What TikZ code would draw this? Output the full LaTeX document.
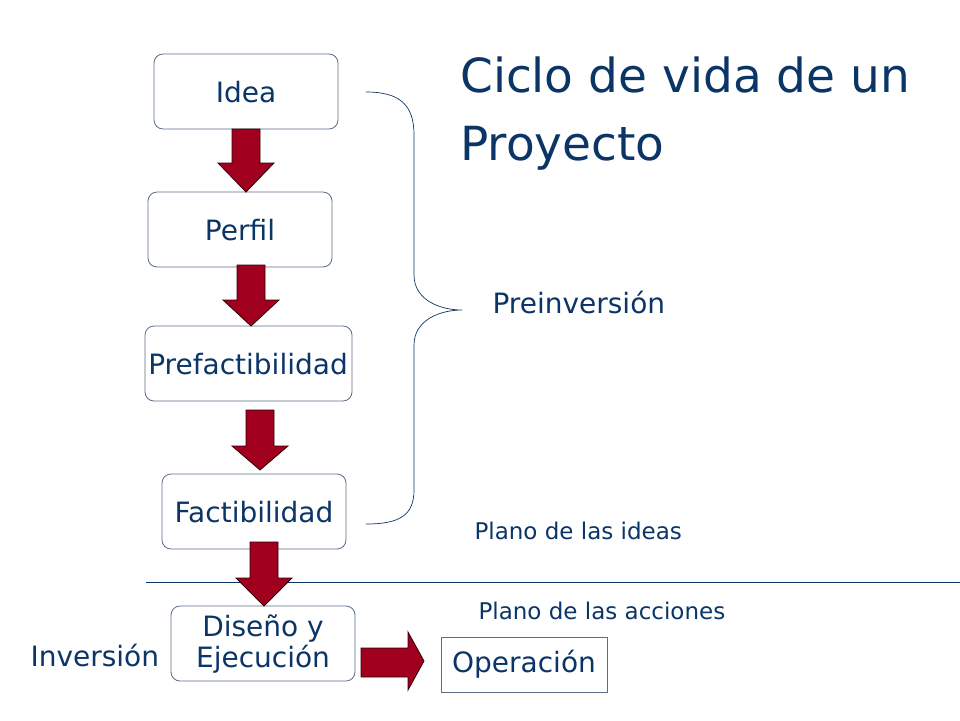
\documentclass[tikz,border=0pt]{standalone}
\usepackage{fontspec}
\setmainfont{DejaVu Sans}
\definecolor{txt}{HTML}{0B3566}
\definecolor{boxb}{HTML}{5A6E86}
\definecolor{arr}{HTML}{A0001E}
\begin{document}
\begin{tikzpicture}[x=1pt,y=-1pt,
  box/.style={draw=boxb,rounded corners=9pt,line width=0.8pt,fill=white},
  lbl/.style={text=txt,font=\fontsize{28}{31}\selectfont},
  small/.style={text=txt,font=\fontsize{23}{26}\selectfont,anchor=west},
  barrow/.style={fill=arr,draw=black!70!arr,line width=0.8pt}]
\useasboundingbox (0,0) rectangle (960,720);
\newcommand{\darrow}[6]{%
  \draw[barrow] (#1,#3) -- (#2,#3) -- (#2,#4) -- ++(#6-#2,0) -- ({(#1+#2)/2},#4+#5) -- ++({(#1-#2)/2-(#6-#2)},-#5) -- (#1,#4) -- cycle;}
\coordinate (l1) at (146,582); \coordinate (l2) at (960,582);
\draw[txt,line width=0.7pt] (l1) -- (l2);
\draw[box] (154,54) rectangle (338,129);
\node[lbl] (idea) at (246,92) {Idea};
\draw[box] (148,192) rectangle (332,267);
\node[lbl] (perfil) at (240,230) {Perfil};
\draw[box] (145,326) rectangle (352,401);
\node[lbl] (pref) at (248,364) {Prefactibilidad};
\draw[box] (162,474) rectangle (346,549);
\node[lbl] (fact) at (254,512) {Factibilidad};
\draw[box] (171,606) rectangle (355,681);
\node[lbl,align=center] (dis) at (263,644) {Diseño y\\ Ejecución};
\draw[draw=boxb,line width=0.8pt] (441,637) rectangle (607,692);
\node[lbl] (op) at (524,664) {Operación};
\darrow{232}{260}{129}{163}{29}{274}
\darrow{237}{265}{265}{300}{26}{279}
\darrow{246}{274}{410}{446}{24}{288}
\darrow{250}{278}{542}{578}{28}{292}
\draw[barrow] (361,648) -- (408,648) -- (408,632) -- (424,661) -- (408,690) -- (408,677) -- (361,677) -- cycle;
\draw[txt,line width=0.7pt] (366,92) .. controls (400,92) and (414,105) .. (414,135) -- (414,275)
  .. controls (414,300) and (440,310) .. (462,310)
  .. controls (440,310) and (414,320) .. (414,345) -- (414,490)
  .. controls (414,515) and (400,524) .. (366,524);
\node[text=txt,font=\fontsize{47}{68}\selectfont,anchor=north west,align=left,inner sep=0] (title) at (460,57) {Ciclo de vida de un\\Proyecto};
\node[text=txt,font=\fontsize{28}{31}\selectfont,anchor=west] (pre) at (489,302) {Preinversión};
\node[small] (pi) at (471,531) {Plano de las ideas};
\node[small] (pa) at (475,611) {Plano de las acciones};
\node[lbl,anchor=west] (inv) at (27,655) {Inversión};
\end{tikzpicture}
\end{document}
